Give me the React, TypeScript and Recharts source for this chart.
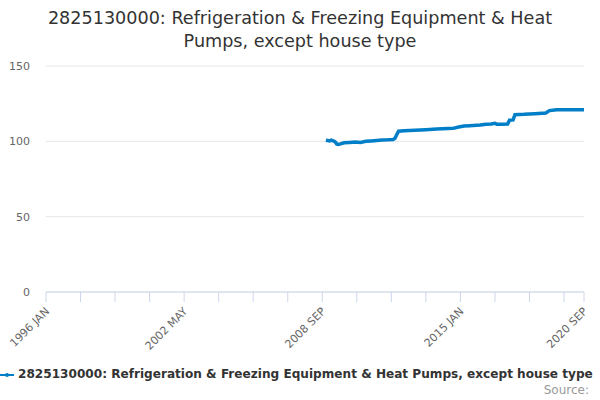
import React from 'react'
import { LineChart, Line, XAxis, YAxis, CartesianGrid } from 'recharts'

// index readings, month label -> value
const periods = [
  '2008 NOV', '2008 DEC', '2009 JAN', '2009 FEB', '2009 MAR', '2009 APR', '2009 MAY', '2009 JUN',
  '2009 JUL', '2009 SEP', '2009 DEC', '2010 MAR', '2010 JUN', '2010 SEP', '2010 DEC', '2011 MAR',
  '2011 JUN', '2011 SEP', '2011 DEC', '2012 JAN', '2012 FEB', '2012 MAR', '2012 JUN', '2012 DEC',
  '2013 JUN', '2013 DEC', '2014 JUN', '2014 SEP', '2014 DEC', '2015 MAR', '2015 JUN', '2015 DEC',
  '2016 MAR', '2016 JUN', '2016 AUG', '2016 SEP', '2016 DEC', '2017 MAR', '2017 APR', '2017 JUN',
  '2017 JUL', '2017 DEC', '2018 JUN', '2018 DEC', '2019 FEB', '2019 JUN', '2020 SEP',
]
const values = [
  100.7, 100.5, 100.3, 100.8, 100.3, 99.8, 98.2, 98.0,
  98.3, 99.0, 99.3, 99.6, 99.3, 100.0, 100.3, 100.6,
  100.9, 101.0, 101.2, 102.0, 104.5, 106.7, 107.0, 107.3,
  107.7, 108.2, 108.5, 108.6, 109.5, 110.2, 110.4, 110.8,
  111.4, 111.5, 112.0, 111.4, 111.3, 111.5, 114.0, 114.2,
  117.7, 117.9, 118.3, 118.8, 120.4, 121.0, 121.0,
]

const yTicks = [0, 50, 100, 150]
const xTicks = [0, 19, 38, 57, 76, 95, 114, 133, 152, 171, 190, 209, 228, 247, 266, 285, 296]
const xLabelled = [0, 76, 152, 228, 296]

const MONTHS = ['JAN', 'FEB', 'MAR', 'APR', 'MAY', 'JUN', 'JUL', 'AUG', 'SEP', 'OCT', 'NOV', 'DEC']
const START_YEAR = 1996

const TITLE = '2825130000: Refrigeration & Freezing Equipment & Heat Pumps, except house type'
const FONT = '"DejaVu Sans", Verdana, sans-serif'
const LINE_COLOR = '#007fc8'

const toIndex = (p: string) => {
  const [y, mon] = p.split(' ')
  return (Number(y) - START_YEAR) * 12 + MONTHS.indexOf(mon)
}
const toLabel = (m: number) => `${START_YEAR + Math.floor(m / 12)} ${MONTHS[m % 12]}`

const data = periods.map((p, i) => ({ m: toIndex(p), v: values[i] }))

// only every 4th tick (and the last one) gets a rotated label
const XTick = (props: any) => {
  const { x, y, payload } = props
  if (!xLabelled.includes(payload.value)) return null
  return (
    <text
      x={x + 4}
      y={y + 8}
      textAnchor="end"
      fontSize={11}
      fill="#666"
      fontFamily={FONT}
      transform={`rotate(-45, ${x + 4}, ${y + 8})`}
    >
      {toLabel(payload.value)}
    </text>
  )
}

export default function App() {
  return (
    <div style={{ position: 'fixed', left: 0, top: 0, width: 600, height: 400, background: '#fff', fontFamily: FONT }}>
      <div style={{ position: 'absolute', left: 40, top: 7, width: 520, textAlign: 'center', fontSize: 17.6, lineHeight: '23px', color: '#333' }}>
        {TITLE}
      </div>

      <LineChart width={600} height={400} data={data} margin={{ top: 66, right: 16, bottom: 0, left: 0 }}>
        <CartesianGrid horizontal vertical={false} stroke="#e6e6e6" />
        <XAxis
          dataKey="m"
          type="number"
          domain={[0, 296]}
          ticks={xTicks}
          interval={0}
          height={108}
          stroke="#ccd6eb"
          tickSize={10}
          tick={<XTick />}
        />
        <YAxis
          domain={[0, 150]}
          ticks={yTicks}
          width={46}
          axisLine={false}
          tickLine={false}
          tickSize={0}
          tickMargin={16}
          tick={{ fontSize: 11, fill: '#666', fontFamily: FONT }}
        />
        <Line type="linear" dataKey="v" stroke={LINE_COLOR} strokeWidth={3.5} dot={false} isAnimationActive={false} />
      </LineChart>

      <div style={{ position: 'absolute', left: 0, top: 366, width: 600, whiteSpace: 'nowrap', fontSize: 12.1, fontWeight: 'bold', color: '#333', lineHeight: '16px' }}>
        <svg width={16} height={12} style={{ verticalAlign: 'middle', marginRight: 2 }}>
          <line x1={0} y1={6} x2={14} y2={6} stroke={LINE_COLOR} strokeWidth={2} />
          <circle cx={7} cy={6} r={2} fill={LINE_COLOR} />
        </svg>
        {TITLE}
      </div>
      <div style={{ position: 'absolute', right: 11, top: 383, fontSize: 12, color: '#999' }}>Source:</div>
    </div>
  )
}
